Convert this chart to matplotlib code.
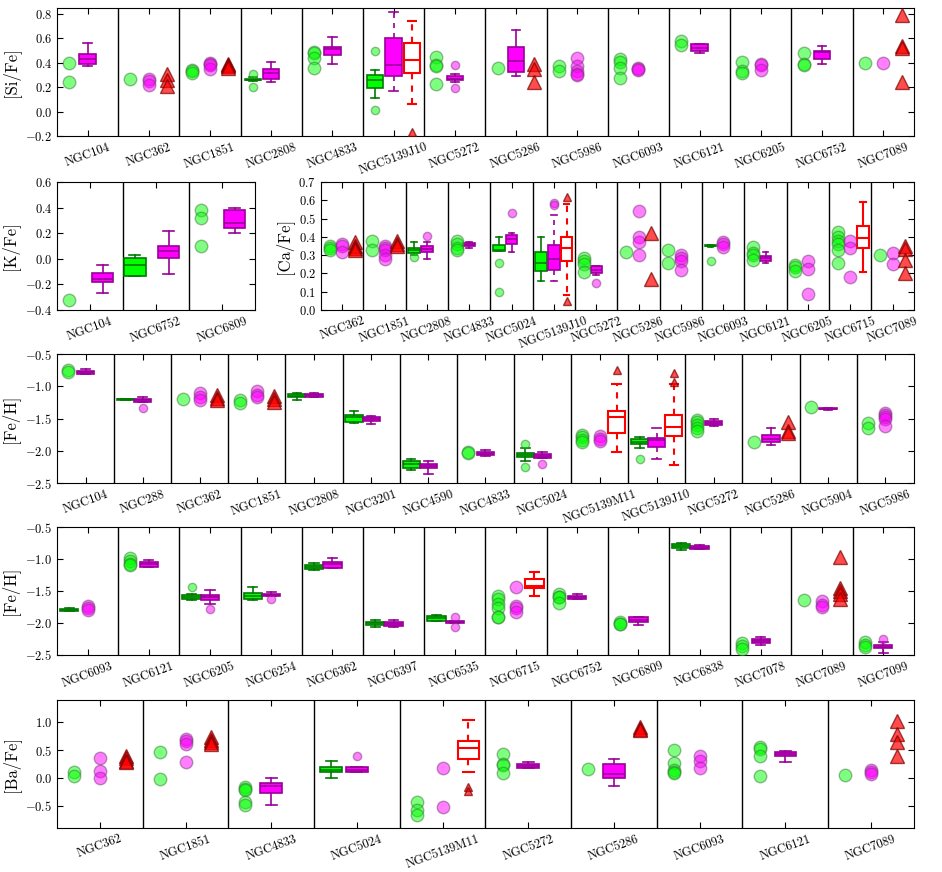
import numpy as np
import matplotlib
matplotlib.use('Agg')
import matplotlib.pyplot as plt
from matplotlib.ticker import MultipleLocator

plt.rcParams['font.family'] = 'serif'
plt.rcParams['font.serif'] = ['cmr10', 'DejaVu Serif']
plt.rcParams['mathtext.fontset'] = 'cm'
plt.rcParams['axes.formatter.use_mathtext'] = True

# Данные: список -> отдельные точки, кортеж -> ящик (lo, q1, med, q3, hi[, выбросы])
si_names = ['NGC104', 'NGC362', 'NGC1851', 'NGC2808', 'NGC4833', 'NGC5139J10', 'NGC5272',
            'NGC5286', 'NGC5986', 'NGC6093', 'NGC6121', 'NGC6205', 'NGC6752', 'NGC7089']
si_green = {
    'NGC104': [0.40, 0.24],
    'NGC362': [0.27],
    'NGC1851': [0.34, 0.33, 0.32],
    'NGC2808': (0.25, 0.255, 0.26, 0.27, 0.28, [0.31, 0.20]),
    'NGC4833': [0.49, 0.48, 0.44, 0.36],
    'NGC5139J10': (0.11, 0.19, 0.26, 0.30, 0.34, [0.50, 0.01]),
    'NGC5272': [0.45, 0.38, 0.37, 0.23],
    'NGC5286': [0.36],
    'NGC5986': [0.375, 0.33],
    'NGC6093': [0.435, 0.41, 0.355, 0.275],
    'NGC6121': [0.575, 0.545],
    'NGC6205': [0.41, 0.33, 0.32],
    'NGC6752': [0.48, 0.39, 0.38],
    'NGC7089': [0.40],
}
si_mag = {
    'NGC104': (0.37, 0.39, 0.43, 0.47, 0.56),
    'NGC362': [0.27, 0.25, 0.22],
    'NGC1851': [0.40, 0.39, 0.38, 0.35],
    'NGC2808': (0.24, 0.27, 0.32, 0.35, 0.41),
    'NGC4833': (0.39, 0.46, 0.51, 0.53, 0.61),
    'NGC5139J10': (0.17, 0.29, 0.385, 0.60, 0.82),
    'NGC5272': (0.245, 0.255, 0.27, 0.29, 0.31, [0.38, 0.19]),
    'NGC5286': (0.29, 0.325, 0.415, 0.53, 0.67),
    'NGC5986': [0.44, 0.375, 0.33, 0.31, 0.30],
    'NGC6093': [0.36, 0.35, 0.34],
    'NGC6121': (0.48, 0.50, 0.52, 0.55, 0.55),
    'NGC6205': [0.39, 0.38, 0.34],
    'NGC6752': (0.39, 0.43, 0.49, 0.50, 0.535),
    'NGC7089': [0.40],
}
si_red = {
    'NGC362': [0.31, 0.26, 0.21],
    'NGC1851': [0.39, 0.38, 0.37, 0.36],
    'NGC5139J10': (0.06, 0.32, 0.42, 0.565, 0.74, [-0.17]),
    'NGC5286': [0.39, 0.35, 0.24],
    'NGC7089': [0.79, 0.54, 0.525, 0.24],
}

k_names = ['NGC104', 'NGC6752', 'NGC6809']
k_green = {
    'NGC104': [-0.32],
    'NGC6752': (-0.13, -0.13, -0.045, 0.01, 0.03),
    'NGC6809': [0.38, 0.32, 0.10],
}
k_mag = {
    'NGC104': (-0.27, -0.18, -0.155, -0.11, -0.05),
    'NGC6752': (-0.12, 0.01, 0.06, 0.10, 0.22),
    'NGC6809': (0.20, 0.24, 0.28, 0.385, 0.40),
}

ca_names = ['NGC362', 'NGC1851', 'NGC2808', 'NGC4833', 'NGC5024', 'NGC5139J10', 'NGC5272',
            'NGC5286', 'NGC5986', 'NGC6093', 'NGC6121', 'NGC6205', 'NGC6715', 'NGC7089']
ca_green = {
    'NGC362': [0.35, 0.34, 0.33],
    'NGC1851': [0.38, 0.33],
    'NGC2808': (0.30, 0.315, 0.33, 0.34, 0.37, [0.29]),
    'NGC4833': [0.38, 0.36, 0.34, 0.33],
    'NGC5024': (0.325, 0.325, 0.33, 0.355, 0.40, [0.26, 0.10]),
    'NGC5139J10': (0.16, 0.215, 0.26, 0.32, 0.40),
    'NGC5272': [0.285, 0.27, 0.25, 0.21],
    'NGC5286': [0.32],
    'NGC5986': [0.33, 0.26],
    'NGC6093': (0.345, 0.348, 0.35, 0.355, 0.355, [0.27]),
    'NGC6121': [0.345, 0.315, 0.30, 0.275],
    'NGC6205': [0.245, 0.235, 0.215],
    'NGC6715': [0.425, 0.40, 0.38, 0.36, 0.33, 0.26],
    'NGC7089': [0.30],
}
ca_mag = {
    'NGC362': [0.36, 0.35, 0.32],
    'NGC1851': [0.35, 0.34, 0.33, 0.30, 0.28],
    'NGC2808': (0.28, 0.32, 0.335, 0.35, 0.37, [0.405]),
    'NGC4833': (0.34, 0.35, 0.355, 0.365, 0.37),
    'NGC5024': (0.32, 0.36, 0.39, 0.41, 0.42, [0.53]),
    'NGC5139J10': (0.16, 0.22, 0.28, 0.355, 0.52, [0.585, 0.575]),
    'NGC5272': (0.19, 0.205, 0.22, 0.24, 0.24, [0.15]),
    'NGC5286': [0.54, 0.40, 0.375, 0.30],
    'NGC5986': [0.30, 0.285, 0.27, 0.22],
    'NGC6093': [0.37, 0.36, 0.345],
    'NGC6121': (0.26, 0.27, 0.285, 0.295, 0.32),
    'NGC6205': [0.27, 0.225, 0.09],
    'NGC6715': [0.38, 0.34, 0.18],
    'NGC7089': [0.31, 0.25],
}
ca_red = {
    'NGC362': [0.37, 0.35, 0.34, 0.33],
    'NGC1851': [0.38, 0.36, 0.35],
    'NGC5139J10': (0.08, 0.27, 0.34, 0.40, 0.58, [0.62, 0.05]),
    'NGC5286': [0.42, 0.17],
    'NGC6715': (0.21, 0.34, 0.395, 0.46, 0.59),
    'NGC7089': [0.35, 0.335, 0.275, 0.20],
}

fe1_names = ['NGC104', 'NGC288', 'NGC362', 'NGC1851', 'NGC2808', 'NGC3201', 'NGC4590', 'NGC4833',
             'NGC5024', 'NGC5139M11', 'NGC5139J10', 'NGC5272', 'NGC5286', 'NGC5904', 'NGC5986']
fe1_green = {
    'NGC104': [-0.74, -0.78],
    'NGC288': (-1.22, -1.21, -1.20, -1.195, -1.19),
    'NGC362': [-1.20],
    'NGC1851': [-1.21, -1.26],
    'NGC2808': (-1.21, -1.17, -1.145, -1.125, -1.11),
    'NGC3201': (-1.575, -1.55, -1.48, -1.445, -1.39),
    'NGC4590': (-2.30, -2.27, -2.21, -2.16, -2.12),
    'NGC4833': [-2.02, -2.03],
    'NGC5024': (-2.16, -2.10, -2.07, -2.03, -1.95, [-1.90, -2.255]),
    'NGC5139M11': [-1.75, -1.79, -1.83, -1.87],
    'NGC5139J10': (-1.955, -1.90, -1.86, -1.82, -1.785, [-2.12]),
    'NGC5272': [-1.52, -1.56, -1.60, -1.65, -1.70],
    'NGC5286': [-1.86],
    'NGC5904': [-1.32],
    'NGC5986': [-1.565, -1.64],
}
fe1_mag = {
    'NGC104': (-0.805, -0.805, -0.78, -0.76, -0.735),
    'NGC288': (-1.25, -1.245, -1.22, -1.20, -1.17, [-1.33]),
    'NGC362': [-1.11, -1.17, -1.22],
    'NGC1851': [-1.08, -1.14, -1.17],
    'NGC2808': (-1.17, -1.16, -1.14, -1.12, -1.10),
    'NGC3201': (-1.585, -1.535, -1.51, -1.48, -1.455),
    'NGC4590': (-2.355, -2.27, -2.235, -2.20, -2.15),
    'NGC4833': (-2.08, -2.07, -2.05, -2.02, -1.99),
    'NGC5024': (-2.11, -2.11, -2.075, -2.055, -2.02, [-2.20]),
    'NGC5139M11': [-1.77, -1.82, -1.85],
    'NGC5139J10': (-2.125, -1.94, -1.825, -1.80, -1.64),
    'NGC5272': (-1.61, -1.60, -1.565, -1.54, -1.51),
    'NGC5286': (-1.91, -1.865, -1.81, -1.76, -1.65),
    'NGC5904': (-1.36, -1.355, -1.35, -1.34, -1.33),
    'NGC5986': [-1.41, -1.44, -1.47, -1.50, -1.62],
}
fe1_red = {
    'NGC362': [-1.13, -1.18, -1.22],
    'NGC1851': [-1.15, -1.20, -1.24],
    'NGC5139M11': (-2.02, -1.72, -1.48, -1.39, -0.97, [-0.745]),
    'NGC5139J10': (-2.225, -1.77, -1.63, -1.445, -0.96, [-0.80, -0.94]),
    'NGC5286': [-1.56, -1.70, -1.73],
}

fe2_names = ['NGC6093', 'NGC6121', 'NGC6205', 'NGC6254', 'NGC6362', 'NGC6397', 'NGC6535',
             'NGC6715', 'NGC6752', 'NGC6809', 'NGC6838', 'NGC7078', 'NGC7089', 'NGC7099']
fe2_green = {
    'NGC6093': (-1.82, -1.805, -1.79, -1.78, -1.77),
    'NGC6121': [-0.99, -1.03, -1.08, -1.10],
    'NGC6205': (-1.645, -1.63, -1.60, -1.56, -1.55, [-1.44]),
    'NGC6254': (-1.64, -1.62, -1.58, -1.535, -1.445),
    'NGC6362': (-1.17, -1.15, -1.12, -1.10, -1.065),
    'NGC6397': (-2.06, -2.025, -2.00, -1.98, -1.96),
    'NGC6535': (-1.965, -1.965, -1.925, -1.89, -1.87),
    'NGC6715': [-1.58, -1.63, -1.70, -1.77, -1.90, -1.91],
    'NGC6752': [-1.55, -1.59, -1.60, -1.68],
    'NGC6809': [-1.98, -2.01, -2.02],
    'NGC6838': (-0.86, -0.83, -0.80, -0.77, -0.75),
    'NGC7078': [-2.32, -2.36, -2.40],
    'NGC7089': [-1.64],
    'NGC7099': [-2.30, -2.34, -2.38],
}
fe2_mag = {
    'NGC6093': [-1.74, -1.77, -1.80],
    'NGC6121': (-1.125, -1.125, -1.08, -1.04, -1.02),
    'NGC6205': (-1.70, -1.64, -1.60, -1.565, -1.48, [-1.78]),
    'NGC6254': (-1.58, -1.58, -1.56, -1.54, -1.52, [-1.62]),
    'NGC6362': (-1.135, -1.135, -1.08, -1.04, -0.985),
    'NGC6397': (-2.065, -2.045, -2.015, -1.99, -1.96),
    'NGC6535': (-2.005, -2.005, -1.99, -1.97, -1.97, [-1.91, -2.065]),
    'NGC6715': [-1.44, -1.74, -1.76, -1.83],
    'NGC6752': (-1.62, -1.62, -1.595, -1.575, -1.55),
    'NGC6809': (-2.03, -1.99, -1.95, -1.91, -1.90),
    'NGC6838': (-0.845, -0.845, -0.82, -0.80, -0.775),
    'NGC7078': (-2.34, -2.32, -2.28, -2.25, -2.215),
    'NGC7089': [-1.65, -1.72, -1.75],
    'NGC7099': (-2.465, -2.395, -2.375, -2.35, -2.305, [-2.255]),
}
fe2_red = {
    'NGC6715': (-1.58, -1.455, -1.42, -1.32, -1.205),
    'NGC7089': [-0.97, -1.46, -1.50, -1.55, -1.62],
}

ba_names = ['NGC362', 'NGC1851', 'NGC4833', 'NGC5024', 'NGC5139M11', 'NGC5272', 'NGC5286',
            'NGC6093', 'NGC6121', 'NGC7089']
ba_green = {
    'NGC362': [0.11, 0.04],
    'NGC1851': [0.46, -0.02],
    'NGC4833': [-0.16, -0.20, -0.22, -0.43, -0.49],
    'NGC5024': (0.0, 0.10, 0.15, 0.20, 0.30),
    'NGC5139M11': [-0.44, -0.57, -0.67],
    'NGC5272': [0.43, 0.25, 0.23, 0.09],
    'NGC5286': [0.16],
    'NGC6093': [0.50, 0.27, 0.14, 0.11, 0.09],
    'NGC6121': [0.55, 0.52, 0.40, 0.04],
    'NGC7089': [0.06],
}
ba_mag = {
    'NGC362': [0.35, 0.13, 0.0],
    'NGC1851': [0.70, 0.66, 0.61, 0.28],
    'NGC4833': (-0.49, -0.27, -0.15, -0.10, 0.0),
    'NGC5024': (0.10, 0.10, 0.15, 0.20, 0.20, [0.40]),
    'NGC5139M11': [0.17, -0.52],
    'NGC5272': (0.18, 0.18, 0.215, 0.255, 0.28),
    'NGC5286': (-0.15, -0.005, 0.07, 0.245, 0.34),
    'NGC6093': [0.39, 0.30, 0.17],
    'NGC6121': (0.29, 0.39, 0.435, 0.47, 0.49),
    'NGC7089': [0.15, 0.11, 0.065],
}
ba_red = {
    'NGC362': [0.40, 0.35, 0.31, 0.28],
    'NGC1851': [0.73, 0.68, 0.64, 0.61],
    'NGC5139M11': (0.11, 0.345, 0.535, 0.67, 1.05, [-0.16, -0.24]),
    'NGC5286': [0.92, 0.88, 0.86],
    'NGC7089': [1.03, 0.79, 0.64, 0.39],
}

# Стили трёх выборок
green = dict(face='#00ff00', edge='#3a7a3a', box='#00ff00', line='#007a00', marker='o',
             ms=9, fs=6, alpha=0.5, lw=1.2)
mag = dict(face='#ff00ff', edge='#7a3a7a', box='#ff00ff', line='#9a009a', marker='o',
           ms=9, fs=6, alpha=0.5, lw=1.2)
red = dict(face='#ff0000', edge='#7a0000', box='none', line='#ff0000', marker='^',
           ms=10, fs=6, alpha=0.7, lw=1.5)


def draw_box(ax, x, v, width, st, dashed):
    lo, q1, med, q3, hi = v[:5]
    fl = np.array(v[5] if len(v) > 5 else [])
    stats = dict(whislo=lo, q1=q1, med=med, q3=q3, whishi=hi, fliers=fl)
    ls = (0, (3, 3)) if dashed else '-'
    ax.bxp([stats], positions=[x], widths=width, patch_artist=True, manage_ticks=False,
           boxprops=dict(facecolor=st['box'], edgecolor=st['line'], linewidth=st['lw']),
           whiskerprops=dict(color=st['line'], linewidth=st['lw'], linestyle=ls),
           capprops=dict(color=st['line'], linewidth=st['lw']),
           medianprops=dict(color=st['line'], linewidth=st['lw']),
           flierprops=dict(marker=st['marker'], markersize=st['fs'], markerfacecolor=st['face'],
                           markeredgecolor=st['edge'], alpha=st['alpha'], linestyle='none'),
           zorder=3)


def draw_panel(ax, names, series, ylabel, ylim, step, width):
    n = len(names)
    for data, st, off in series:
        for i, name in enumerate(names, start=1):
            if name not in data:
                continue
            v = data[name]
            x = i + off
            if isinstance(v, tuple):
                draw_box(ax, x, v, width, st, name.startswith('NGC5139') and st is not green)
            else:
                ax.plot([x] * len(v), v, linestyle='none', marker=st['marker'], ms=st['ms'],
                        mfc=st['face'], mec=st['edge'], alpha=st['alpha'], zorder=4)
    for i in range(1, n):
        ax.axvline(i + 0.5, color='black', lw=1.0, zorder=1)
    ax.set_xlim(0.5, n + 0.5)
    ax.set_ylim(*ylim)
    ax.yaxis.set_major_locator(MultipleLocator(step))
    ax.set_xticks(range(1, n + 1))
    ax.set_xticklabels(names, rotation=20, fontsize=9)
    ax.set_ylabel(ylabel, fontsize=12)
    ax.tick_params(direction='in', top=True, right=True, length=4, labelsize=9)


fig = plt.figure(figsize=(9.42, 8.72), dpi=100)

ax_si = fig.add_axes([0.0605, 0.844, 0.9095, 0.147])
ax_k = fig.add_axes([0.0605, 0.6445, 0.2102, 0.1465])
ax_ca = fig.add_axes([0.3408, 0.6445, 0.6292, 0.1465])
ax_fe1 = fig.add_axes([0.0605, 0.446, 0.9095, 0.148])
ax_fe2 = fig.add_axes([0.0605, 0.2489, 0.9095, 0.1467])
ax_ba = fig.add_axes([0.0605, 0.0505, 0.9095, 0.1467])

draw_panel(ax_si, si_names, [(si_green, green, -0.3), (si_mag, mag, 0.0), (si_red, red, 0.3)],
           '[Si/Fe]', (-0.2, 0.85), 0.2, 0.27)
draw_panel(ax_k, k_names, [(k_green, green, -0.32), (k_mag, mag, 0.19)],
           '[K/Fe]', (-0.4, 0.6), 0.2, 0.33)
draw_panel(ax_ca, ca_names, [(ca_green, green, -0.3), (ca_mag, mag, 0.0), (ca_red, red, 0.3)],
           '[Ca/Fe]', (0.0, 0.7), 0.1, 0.27)
draw_panel(ax_fe1, fe1_names, [(fe1_green, green, -0.3), (fe1_mag, mag, 0.0), (fe1_red, red, 0.3)],
           '[Fe/H]', (-2.5, -0.5), 0.5, 0.3)
draw_panel(ax_fe2, fe2_names, [(fe2_green, green, -0.3), (fe2_mag, mag, 0.0), (fe2_red, red, 0.3)],
           '[Fe/H]', (-2.5, -0.5), 0.5, 0.3)
draw_panel(ax_ba, ba_names, [(ba_green, green, -0.3), (ba_mag, mag, 0.0), (ba_red, red, 0.3)],
           '[Ba/Fe]', (-0.9, 1.4), 0.5, 0.25)

fig.savefig('out.png', dpi=100)
